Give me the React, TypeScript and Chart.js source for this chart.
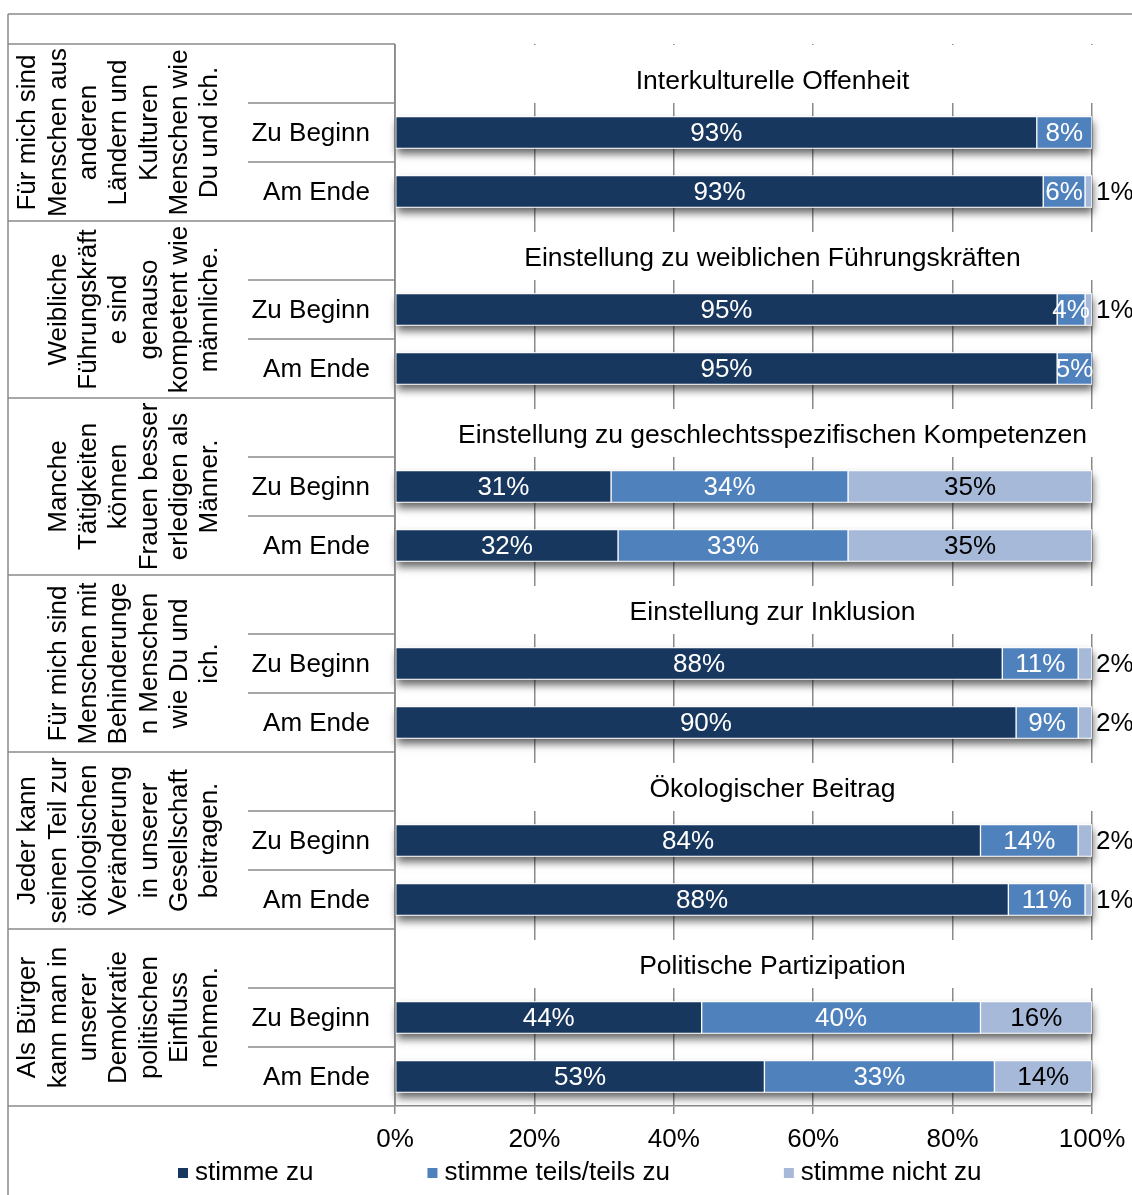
import React, { useEffect, useRef } from 'react';
import { Chart, registerables } from 'chart.js';

Chart.register(...registerables);

const groupTitles = [
  'Interkulturelle Offenheit',
  'Einstellung zu weiblichen Führungskräften',
  'Einstellung zu geschlechtsspezifischen Kompetenzen',
  'Einstellung zur Inklusion',
  'Ökologischer Beitrag',
  'Politische Partizipation',
];

const statements = [
  ['Für mich sind', 'Menschen aus', 'anderen', 'Ländern und', 'Kulturen', 'Menschen wie', 'Du und ich.'],
  ['Weibliche', 'Führungskräft', 'e sind', 'genauso', 'kompetent wie', 'männliche.'],
  ['Manche', 'Tätigkeiten', 'können', 'Frauen besser', 'erledigen als', 'Männer.'],
  ['Für mich sind', 'Menschen mit', 'Behinderunge', 'n Menschen', 'wie Du und', 'ich.'],
  ['Jeder kann', 'seinen Teil zur', 'ökologischen', 'Veränderung', 'in unserer', 'Gesellschaft', 'beitragen.'],
  ['Als Bürger', 'kann man in', 'unserer', 'Demokratie', 'politischen', 'Einfluss', 'nehmen.'],
];

const timepoints = ['Zu Beginn', 'Am Ende'];
const seriesNames = ['stimme zu', 'stimme teils/teils zu', 'stimme nicht zu'];

// values per bar: group order, Zu Beginn then Am Ende
const stimmeZu = [93, 93, 95, 95, 31, 32, 88, 90, 84, 88, 44, 53];
const stimmeTeils = [8, 6, 4, 5, 34, 33, 11, 9, 14, 11, 40, 33];
const stimmeNicht = [0, 1, 1, 0, 35, 35, 2, 2, 2, 1, 16, 14];

const xTickValues = [0, 20, 40, 60, 80, 100];

const seriesColors = ['#17375E', '#4F81BD', '#A6B9D9'];
const labelColors = ['#ffffff', '#ffffff', '#000000'];

const FONT = '"Liberation Sans", Arial, Helvetica, sans-serif';
const LINE = '#8a8a8a';

export default function App() {
  const canvasRef = useRef<HTMLCanvasElement | null>(null);

  useEffect(() => {
    const canvas = canvasRef.current;
    if (!canvas) return;

    const rawSeries = [stimmeZu, stimmeTeils, stimmeNicht];
    const labels: string[] = [];
    const rowRaw: (number[] | null)[] = [];
    groupTitles.forEach((title, g) => {
      labels.push(title);
      rowRaw.push(null);
      timepoints.forEach((tp, t) => {
        labels.push(tp);
        const i = g * 2 + t;
        rowRaw.push(rawSeries.map((s) => s[i]));
      });
    });

    const datasets = seriesNames.map((name, s) => ({
      label: name,
      data: rowRaw.map((r) => {
        if (!r) return null;
        const total = r.reduce((a, b) => a + b, 0);
        return (r[s] / total) * 100;
      }),
      backgroundColor: seriesColors[s],
      borderColor: '#ffffff',
      borderWidth: 1,
      borderSkipped: false,
      barThickness: 32,
    }));

    const titlePlugin = {
      id: 'titlesAndShadows',
      beforeDatasetsDraw(chart: any) {
        const ctx = chart.ctx;
        const area = chart.chartArea;
        const y = chart.scales.y;
        const rowH = y.getPixelForValue(1) - y.getPixelForValue(0);
        ctx.save();
        // white boxes behind group titles (hide gridlines)
        groupTitles.forEach((title, g) => {
          const idx = g * 3;
          const c = y.getPixelForValue(idx);
          const top = c - rowH / 2;
          const bottom = c + rowH / 2;
          const boxTop = g === 0 ? top + 1 : top + 11;
          ctx.fillStyle = '#ffffff';
          ctx.fillRect(area.left + 1, boxTop, area.right - area.left + 3, bottom - boxTop);
          ctx.fillStyle = '#000000';
          ctx.font = `26.5px ${FONT}`;
          ctx.textAlign = 'center';
          ctx.textBaseline = 'middle';
          ctx.fillText(title, (area.left + area.right) / 2 + 29, c + 8);
        });
        // bar shadows
        const metas = [0, 1, 2].map((d) => chart.getDatasetMeta(d));
        rowRaw.forEach((r, i) => {
          if (!r) return;
          let x0 = Infinity;
          let x1 = -Infinity;
          let yc = 0;
          let h = 0;
          metas.forEach((m) => {
            const el = m.data[i];
            if (!el) return;
            const p = el.getProps(['x', 'y', 'base', 'height'], true);
            x0 = Math.min(x0, p.base, p.x);
            x1 = Math.max(x1, p.base, p.x);
            yc = p.y;
            h = p.height;
          });
          ctx.save();
          ctx.shadowColor = 'rgba(0,0,0,0.6)';
          ctx.shadowBlur = 8;
          ctx.shadowOffsetY = 5;
          ctx.shadowOffsetX = 1;
          ctx.fillStyle = '#ffffff';
          ctx.fillRect(x0, yc - h / 2, x1 - x0, h);
          ctx.restore();
        });
        ctx.restore();
      },
    };

    const valueLabelPlugin = {
      id: 'valueLabels',
      afterDatasetsDraw(chart: any) {
        const ctx = chart.ctx;
        ctx.save();
        ctx.font = `26px ${FONT}`;
        ctx.textBaseline = 'middle';
        [0, 1, 2].forEach((s) => {
          const meta = chart.getDatasetMeta(s);
          meta.data.forEach((el: any, i: number) => {
            const r = rowRaw[i];
            if (!r) return;
            const v = r[s];
            if (!v) return;
            const p = el.getProps(['x', 'y', 'base'], true);
            const txt = `${v}%`;
            if (s === 2 && v <= 2) {
              ctx.fillStyle = '#000000';
              ctx.textAlign = 'left';
              ctx.fillText(txt, Math.max(p.x, p.base) + 4, p.y + 1);
            } else {
              ctx.fillStyle = labelColors[s];
              ctx.textAlign = 'center';
              ctx.fillText(txt, (p.x + p.base) / 2, p.y + 1);
            }
          });
        });
        ctx.restore();
      },
    };

    const tablePlugin = {
      id: 'leftTable',
      afterDraw(chart: any) {
        const ctx = chart.ctx;
        const area = chart.chartArea;
        const y = chart.scales.y;
        const rowH = y.getPixelForValue(1) - y.getPixelForValue(0);
        const rowTop = (i: number) => y.getPixelForValue(i) - rowH / 2;
        const frameX = 8;
        const subX = 248;
        ctx.save();
        ctx.strokeStyle = LINE;
        ctx.lineWidth = 1.5;
        // outer frame
        ctx.beginPath();
        ctx.moveTo(frameX, 14);
        ctx.lineTo(chart.width, 14);
        ctx.moveTo(frameX, 14);
        ctx.lineTo(frameX, chart.height);
        // y axis line
        ctx.moveTo(area.left, area.top);
        ctx.lineTo(area.left, area.bottom);
        // group lines
        for (let g = 0; g <= groupTitles.length; g++) {
          const yy = g < groupTitles.length ? rowTop(g * 3) : area.bottom;
          ctx.moveTo(frameX, yy);
          ctx.lineTo(area.left, yy);
          if (g < groupTitles.length) {
            for (let t = 1; t <= 2; t++) {
              const ys = rowTop(g * 3 + t);
              ctx.moveTo(subX, ys);
              ctx.lineTo(area.left, ys);
            }
          }
        }
        ctx.stroke();

        ctx.fillStyle = '#000000';
        ctx.font = `26px ${FONT}`;
        // rotated statements
        statements.forEach((lines, g) => {
          const top = rowTop(g * 3);
          const bottom = top + rowH * 3;
          const cy = (top + bottom) / 2;
          const n = lines.length;
          lines.forEach((line, k) => {
            const cx = 210 - (n - 1 - k) * 30.3;
            ctx.save();
            ctx.translate(cx, cy);
            ctx.rotate(-Math.PI / 2);
            ctx.textAlign = 'center';
            ctx.textBaseline = 'middle';
            ctx.fillText(line, 0, 0);
            ctx.restore();
          });
        });
        // row labels
        ctx.textAlign = 'right';
        ctx.textBaseline = 'middle';
        labels.forEach((lab, i) => {
          if (i % 3 === 0) return;
          ctx.fillText(lab, 370, y.getPixelForValue(i) + 1);
        });
        // legend
        const legendY = 1173;
        let lx = 178;
        ctx.textAlign = 'left';
        seriesNames.forEach((name, s) => {
          ctx.fillStyle = seriesColors[s];
          ctx.fillRect(lx, legendY - 5, 10, 10);
          ctx.fillStyle = '#000000';
          ctx.fillText(name, lx + 17, legendY);
          lx += 17 + ctx.measureText(name).width + 114;
        });
        ctx.restore();
      },
    };

    const chart = new Chart(canvas, {
      type: 'bar',
      data: { labels, datasets: datasets as any },
      options: {
        indexAxis: 'y',
        responsive: false,
        animation: false,
        devicePixelRatio: 1,
        layout: { padding: { left: 395, right: 40, top: 44, bottom: 29 } },
        plugins: {
          legend: { display: false },
          tooltip: { enabled: false },
        },
        scales: {
          x: {
            stacked: true,
            min: 0,
            max: 100,
            afterBuildTicks: (scale: any) => {
              scale.ticks = xTickValues.map((v) => ({ value: v }));
            },
            afterFit: (scale: any) => {
              scale.height = 60;
            },
            ticks: {
              callback: (v: any) => `${v}%`,
              color: '#000000',
              font: { family: FONT, size: 26, lineHeight: 1.5 },
              padding: 6,
              maxRotation: 0,
            },
            grid: {
              color: LINE,
              lineWidth: 1.5,
              tickLength: 8,
              drawTicks: true,
            },
            border: { display: true, color: LINE, width: 1.5 },
          },
          y: {
            stacked: true,
            display: false,
          },
        },
      },
      plugins: [titlePlugin, valueLabelPlugin, tablePlugin],
    });

    return () => chart.destroy();
  }, []);

  return (
    <div style={{ position: 'absolute', left: 0, top: 0, width: 1132, height: 1195, background: '#ffffff' }}>
      <canvas ref={canvasRef} width={1132} height={1195} style={{ display: 'block' }} />
    </div>
  );
}
